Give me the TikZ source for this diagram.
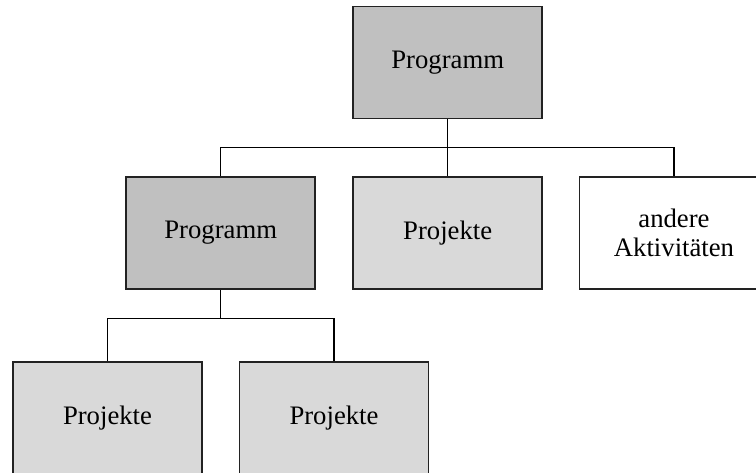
\documentclass[tikz,border=0pt]{standalone}
\usepackage{fontspec}
\setmainfont{Liberation Serif}
\definecolor{darkbox}{HTML}{C0C0C0}
\definecolor{lightbox}{HTML}{D9D9D9}
\definecolor{edge}{HTML}{222222}
\begin{document}
\begin{tikzpicture}[x=1pt,y=-1pt,
  box/.style={draw=edge,line width=1.6pt,minimum width=189pt,minimum height=112pt,
    inner sep=0pt,align=center,font=\fontsize{26.7}{29}\selectfont},
  prog/.style={box,fill=darkbox},
  proj/.style={box,fill=lightbox},
  other/.style={box,fill=white},
  link/.style={draw=black,line width=1.3pt}]
\useasboundingbox (0,0) rectangle (756,472);
\clip (0,0) rectangle (756,472);
% top level
\node[prog] (top) at (447.7,62.5) {Programm};
% second level
\node[prog]  (mprog) at (220.7,233) {Programm};
\node[proj]  (mproj) at (447.7,233) {Projekte};
\node[other] (andere) at (674,233) {andere\\Aktivitäten};
% third level
\node[proj] (p1) at (107.5,418) {Projekte};
\node[proj] (p2) at (334,418) {Projekte};
% connector buses
\coordinate (b1) at (447.7,147.5);
\coordinate (b2) at (220.7,318.5);
\draw[link] (top.south) -- (b1);
\draw[link] (mprog.north) |- (b1) -| (andere.north);
\draw[link] (b1) -- (mproj.north);
\draw[link] (mprog.south) -- (b2);
\draw[link] (p1.north) |- (b2) -| (p2.north);
\end{tikzpicture}
\end{document}
